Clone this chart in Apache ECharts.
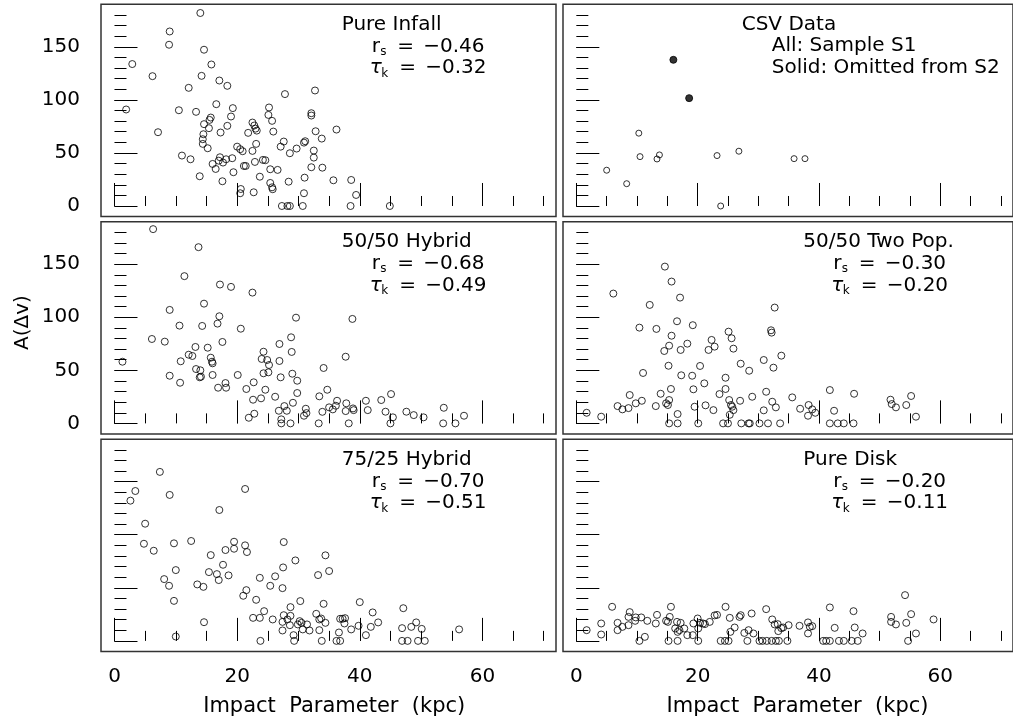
<!DOCTYPE html>
<html>
<head>
<meta charset="utf-8">
<script src="https://cdn.jsdelivr.net/npm/echarts@6/dist/echarts.min.js"></script>
<style>
  html, body { margin: 0; padding: 0; background: #fff; }
  #chart { width: 1013px; height: 726px; }
</style>
</head>
<body>
<div id="chart"></div>
<script>
// Absorption amplitude A(Δv) versus impact parameter for each kinematic model.
const pureInfall = [
  [1.9,90.9],[2.9,133.7],[6.2,122.3],[7.1,69.5],[9.0,164.4],[8.9,151.9],[10.5,90.2],[11.0,47.5],
  [12.1,111.3],[12.4,44.0],[13.3,88.7],[13.9,28.0],[14.0,181.8],[14.2,122.6],[14.6,147.2],[14.6,77.1],
  [14.5,67.6],[14.4,62.9],[14.4,58.5],[15.2,54.4],[15.4,73.3],[15.5,81.1],[15.7,83.3],[15.8,133.3],
  [16.0,39.6],[16.5,34.9],[16.6,95.9],[17.0,42.7],[17.1,118.2],[17.3,69.2],[17.2,45.9],[17.6,23.3],
  [17.7,40.9],[18.2,44.0],[18.4,113.2],[18.4,75.5],[19.0,84.3],[19.3,92.2],[19.2,45.0],[19.4,31.8],
  [20.0,55.9],[20.5,53.5],[20.6,16.0],[20.5,12.0],[20.9,51.6],[21.1,37.7],[21.4,37.7],[21.8,68.9],
  [22.5,78.6],[22.5,51.9],[22.7,12.9],[22.8,75.8],[23.0,72.9],[23.2,71.0],[23.1,58.5],[22.9,41.5],
  [23.7,27.6],[24.2,43.4],[24.6,43.1],[25.2,92.8],[25.1,85.8],[25.4,34.6],[25.7,80.2],[25.4,21.7],
  [25.7,17.6],[25.8,15.8],[25.9,70.1],[26.6,34.0],[27.1,55.9],[27.3,0],[27.6,60.7],[27.8,105.4],
  [28.4,22.9],[28.2,0],[28.6,0],[28.6,49.7],[29.7,54.1],[30.7,0],[30.9,12.0],[31.0,26.7],
  [30.9,59.7],[31.1,61.0],[32.1,87.4],[32.1,85.2],[32.1,36.5],[32.5,45.6],[32.5,52.2],[32.7,108.8],
  [32.8,70.4],[33.8,63.5],[33.9,36.1],[35.7,24.2],[36.2,72.0],[38.6,24.5],[39.4,10.4],[38.5,0],[44.9,0]
];
const csvSampleS1 = [
  [5.0,33.7],[8.3,21.0],[10.3,68.6],[10.5,46.5],[13.3,44.3],[13.7,48.1],[23.2,47.5],[23.8,0],
  [26.8,51.6],[35.9,44.6],[37.7,44.6]
];
const csvOmittedS2 = [[16.0,137.7],[18.6,101.6]];
const hybrid5050 = [
  [1.3,58.1],[6.3,183.0],[6.1,79.5],[8.2,77.0],[9.0,106.9],[9.0,44.9],[10.6,92.1],[10.7,38.3],
  [10.8,58.5],[11.4,138.7],[12.1,64.7],[12.7,63.5],[13.2,72.0],[13.3,51.2],[13.7,166.0],[13.9,43.4],
  [14.0,50.0],[14.1,44.0],[14.3,91.8],[14.6,112.8],[15.2,71.3],[15.7,61.9],[15.9,58.1],[16.0,56.6],
  [16.0,45.6],[16.8,94.0],[16.9,33.6],[17.1,100.9],[17.2,130.8],[17.6,76.7],[18.1,38.0],[18.2,33.6],
  [19.0,128.6],[20.1,45.6],[20.6,89.2],[21.5,32.4],[21.9,5.3],[22.5,123.2],[22.7,38.7],[22.6,22.3],
  [22.8,9.1],[23.9,23.6],[24.0,60.7],[24.3,67.5],[24.3,47.2],[24.6,31.7],[24.9,59.7],[25.1,48.1],
  [25.2,55.0],[26.2,25.1],[26.8,11.9],[26.9,74.8],[26.9,58.8],[27.1,43.4],[27.2,3.8],[27.2,0],
  [27.7,16.3],[28.1,11.9],[28.7,0],[28.8,81.1],[28.9,67.3],[29.0,46.8],[29.1,19.4],[29.6,99.6],
  [29.8,40.2],[29.8,28.6],[30.9,7.2],[31.2,13.8],[31.3,9.7],[33.3,0],[33.4,25.5],[33.9,10.9],
  [34.1,52.2],[34.7,31.7],[35.0,15.1],[35.6,13.2],[36.3,21.3],[36.1,16.6],[37.8,18.9],[37.7,11.6],
  [38.9,14.1],[39.0,12.5],[38.2,0],[37.7,62.8],[38.8,98.4],[41.0,21.3],[41.3,12.5],[43.5,22.0],
  [44.2,11.0],[45.1,27.6],[45.4,5.7],[45.0,0],[47.6,11.0],[48.8,7.8],[50.4,5.7],[53.7,14.7],
  [53.6,0],[55.6,0],[57.0,7.2]
];
const twoPop5050 = [
  [1.7,10.0],[4.1,6.3],[6.1,122.3],[6.8,16.3],[7.6,13.2],[8.6,14.4],[8.8,26.7],[9.8,18.9],
  [10.4,90.2],[10.8,21.3],[11.0,47.5],[12.1,111.6],[13.1,16.3],[13.2,89.0],[13.9,27.9],[14.6,147.7],
  [14.5,68.2],[14.8,18.9],[15.1,17.3],[15.3,73.2],[15.2,54.3],[15.3,22.0],[15.3,0],[15.6,32.4],
  [15.7,82.6],[15.7,133.6],[16.6,96.2],[16.7,8.8],[16.7,0],[17.1,118.5],[17.2,69.2],[17.3,45.3],
  [18.3,75.1],[19.1,44.9],[19.2,92.5],[19.3,32.1],[19.5,15.7],[20.1,0],[20.4,54.1],[21.1,37.7],
  [21.3,17.0],[21.8,69.2],[22.3,78.6],[22.8,72.3],[22.6,12.5],[23.6,27.6],[24.2,0],[24.6,43.0],
  [24.6,32.4],[25.1,86.4],[25.0,0],[25.2,22.0],[25.3,8.1],[25.5,17.3],[25.6,80.2],[25.7,15.7],
  [25.9,12.5],[25.9,70.4],[27.0,21.3],[27.1,56.2],[27.2,0],[28.4,0],[28.6,0],[28.5,49.6],
  [29.0,25.1],[30.2,0],[30.9,12.3],[30.9,59.7],[31.3,29.8],[31.6,0],[32.1,87.7],[32.2,85.5],
  [32.3,20.4],[32.5,52.5],[32.7,109.1],[32.9,15.1],[33.6,0],[33.8,63.8],[35.6,24.5],[36.9,13.8],
  [38.3,17.3],[38.2,7.2],[38.9,13.2],[39.4,10.0],[41.8,31.4],[41.8,0],[42.5,11.9],[43.1,0],
  [44.1,0],[45.7,0],[45.8,27.9],[51.8,22.3],[52.0,18.2],[52.7,15.1],[54.4,17.3],[55.2,25.8],[56.0,6.3]
];
const hybrid7525 = [
  [2.6,132.1],[3.4,141.2],[5.0,110.4],[4.8,91.5],[6.4,84.9],[7.4,159.2],[8.1,58.2],[8.9,51.9],
  [9.0,137.5],[9.7,37.7],[9.7,91.9],[10.0,66.7],[10.0,4.1],[12.5,94.1],[13.5,53.2],[14.5,50.9],
  [14.6,17.6],[15.4,64.8],[15.7,80.8],[16.7,62.9],[17.0,57.3],[17.1,123.3],[17.7,71.7],[18.1,85.6],
  [18.6,61.7],[19.5,93.4],[19.5,86.8],[21.0,42.5],[21.3,143.1],[21.3,90.0],[21.5,47.8],[21.6,83.7],
  [22.6,21.7],[23.1,38.7],[23.7,59.4],[23.7,21.7],[23.8,0],[24.4,28.0],[25.4,51.9],[25.8,20.2],
  [26.2,60.8],[27.4,49.7],[27.5,69.2],[27.6,93.1],[27.4,17.9],[27.4,9.8],[27.6,24.2],[28.2,20.2],
  [28.7,31.8],[28.7,23.6],[28.6,14.8],[29.2,5.4],[29.3,0],[29.5,75.8],[29.9,15.5],[30.2,18.6],
  [30.3,37.5],[30.5,17.0],[30.7,10.8],[31.4,15.5],[31.8,9.8],[32.9,25.5],[33.2,62.0],[33.4,10.1],
  [33.4,20.2],[33.7,21.1],[33.8,0],[34.1,34.9],[34.4,17.0],[34.4,80.6],[35.0,65.8],[36.2,0],
  [36.6,7.9],[36.8,20.8],[36.8,0],[37.2,20.8],[37.5,16.4],[37.6,21.4],[38.6,10.8],[39.8,14.2],
  [40.0,36.5],[41.0,5.4],[41.8,13.2],[42.1,26.8],[43.0,17.4],[46.9,12.0],[47.1,30.8],[46.9,0],
  [47.8,0],[48.4,13.2],[49.2,17.4],[50.1,11.3],[49.5,0],[50.6,0],[56.2,10.8]
];
const pureDisk = [
  [1.7,10.1],[4.1,16.4],[4.1,6.0],[5.9,32.1],[6.8,17.0],[6.8,10.1],[7.6,13.2],[8.6,14.8],
  [8.6,22.6],[8.8,27.1],[9.7,18.9],[9.8,22.1],[10.4,0],[10.7,22.1],[11.3,3.8],[11.7,18.9],
  [13.1,16.4],[13.3,24.5],[14.8,18.9],[15.1,17.9],[15.2,0],[15.4,22.6],[15.6,32.1],[16.3,11.7],
  [16.6,17.9],[16.7,0],[16.7,8.5],[17.0,10.1],[17.2,17.0],[17.8,11.7],[18.3,5.4],[19.2,5.4],
  [19.3,16.4],[20.0,21.1],[20.1,11.7],[20.1,0],[20.4,17.0],[20.9,16.4],[21.2,15.8],[22.0,17.9],
  [22.8,24.0],[23.2,24.5],[23.8,0],[24.6,32.1],[24.5,0],[25.1,0],[25.3,21.7],[25.4,8.5],
  [26.1,12.6],[26.9,22.6],[27.1,24.2],[27.7,7.5],[28.2,0],[28.4,10.1],[28.9,25.8],[29.2,7.0],
  [30.2,0],[30.7,0],[31.4,0],[32.2,0],[32.9,0],[33.4,0],[34.8,0],[31.3,29.9],
  [32.3,20.2],[32.7,15.5],[33.2,15.8],[33.3,9.2],[33.8,12.0],[34.1,12.6],[35.0,14.8],[36.8,14.2],
  [38.2,17.4],[38.2,7.0],[38.5,13.2],[38.9,13.9],[40.7,0],[41.2,0],[41.8,0],[41.8,31.5],
  [42.6,12.3],[43.3,0],[44.1,0],[45.4,0],[46.4,0],[45.7,28.0],[45.9,12.6],[47.2,7.0],
  [51.9,22.6],[51.9,17.9],[52.7,15.5],[54.2,43.1],[54.4,17.0],[55.2,25.2],[54.7,0],[56.0,7.0],[58.9,20.2]
];

// Tick positions and labels
const xMajorTicks = [0, 20, 40, 60];
const xMinorTicks = [0, 5, 10, 15, 20, 25, 30, 35, 40, 45, 50, 55, 60, 65, 70];
const yMajorTicks = [0, 50, 100, 150];
const yMinorTicks = [0, 10, 20, 30, 40, 50, 60, 70, 80, 90, 100, 110, 120, 130, 140, 150, 160, 170, 180];

// Model names with Spearman / Kendall coefficients
const modelNames = ['Pure Infall', 'CSV Data', '50/50 Hybrid', '50/50 Two Pop.', '75/25 Hybrid', 'Pure Disk'];
const spearman = ['−0.46', null, '−0.68', '−0.30', '−0.70', '−0.20'];
const kendall  = ['−0.32', null, '−0.49', '−0.20', '−0.51', '−0.11'];
const csvNotes = ['All: Sample S1', 'Solid: Omitted from S2'];

const xTitle = 'Impact  Parameter  (kpc)';
const yTitle = 'A(Δv)';

const FONT = '"DejaVu Sans", "Liberation Sans", sans-serif';
const X_RANGE = [-2.2, 72];
const Y_RANGE = [-10, 190];
const colLeft = [101, 563];
const rowTop = [4.3, 221.7, 439.2];
const PANEL_W = 455;
const PANEL_H = 212.3;

const panelSeries = [
  [{ data: pureInfall }],
  [{ data: csvSampleS1, size: 6 }, { data: csvOmittedS2, solid: true, size: 7 }],
  [{ data: hybrid5050 }],
  [{ data: twoPop5050 }],
  [{ data: hybrid7525 }],
  [{ data: pureDisk }]
];

const grids = [], xAxes = [], yAxes = [], series = [], graphics = [];

for (let i = 0; i < 6; i++) {
  const row = Math.floor(i / 2), col = i % 2;
  grids.push({
    left: colLeft[col], top: rowTop[row], width: PANEL_W, height: PANEL_H,
    show: true, borderColor: '#333', borderWidth: 1.5, backgroundColor: 'transparent'
  });
  const showX = row === 2;
  const showY = col === 0 && row < 2;
  const tickStyle = { color: '#000', width: 1 };
  const labelStyle = { fontFamily: FONT, fontSize: 20, color: '#000' };
  // major ticks + labels
  xAxes.push({
    gridIndex: i, type: 'value', position: 'bottom', min: X_RANGE[0], max: X_RANGE[1],
    axisLine: { show: false }, splitLine: { show: false },
    axisTick: { show: true, inside: true, length: 23, customValues: xMajorTicks, lineStyle: tickStyle },
    axisLabel: Object.assign({ show: showX, customValues: xMajorTicks, margin: 15 }, labelStyle)
  });
  // minor ticks
  xAxes.push({
    gridIndex: i, type: 'value', position: 'bottom', min: X_RANGE[0], max: X_RANGE[1],
    axisLine: { show: false }, splitLine: { show: false },
    axisTick: { show: true, inside: true, length: 10, customValues: xMinorTicks, lineStyle: tickStyle },
    axisLabel: { show: false }
  });
  yAxes.push({
    gridIndex: i, type: 'value', position: 'left', min: Y_RANGE[0], max: Y_RANGE[1],
    axisLine: { show: false }, splitLine: { show: false },
    axisTick: { show: true, inside: true, length: 23, customValues: yMajorTicks, lineStyle: tickStyle },
    axisLabel: Object.assign({ show: showY, customValues: yMajorTicks, margin: 21 }, labelStyle)
  });
  yAxes.push({
    gridIndex: i, type: 'value', position: 'left', min: Y_RANGE[0], max: Y_RANGE[1],
    axisLine: { show: false }, splitLine: { show: false },
    axisTick: { show: true, inside: true, length: 12, customValues: yMinorTicks, lineStyle: tickStyle },
    axisLabel: { show: false }
  });
  panelSeries[i].forEach(s => {
    series.push({
      type: 'scatter', xAxisIndex: 2 * i, yAxisIndex: 2 * i, data: s.data,
      symbol: 'circle', symbolSize: s.size || 7, silent: true, clip: false,
      itemStyle: s.solid
        ? { color: '#000', borderColor: '#000', borderWidth: 1 }
        : { color: 'rgba(0,0,0,0)', borderColor: '#000', borderWidth: 1 }
    });
  });
}

// text helper: y is the baseline of the line
function label(text, x, base, size, extra) {
  return {
    type: 'text', x: x, y: base - 0.36 * size, silent: true,
    style: Object.assign({ text: text, fill: '#000', fontFamily: FONT, fontSize: size,
      align: 'left', verticalAlign: 'middle' }, extra || {})
  };
}

function statBlock(i, titleX) {
  const row = Math.floor(i / 2);
  const b0 = rowTop[row] + 27.7, b1 = b0 + 21.7, b2 = b1 + 21.7;
  graphics.push(label(modelNames[i], titleX, b0, 20));
  graphics.push(label('r', titleX + 30, b1, 20));
  graphics.push(label('s', titleX + 38.5, b1 + 2.5, 12));
  graphics.push(label('=', titleX + 55.5, b1, 20));
  graphics.push(label(spearman[i], titleX + 81.5, b1, 20));
  graphics.push(label('τ', titleX + 28, b2, 20, { fontStyle: 'italic' }));
  graphics.push(label('k', titleX + 39.5, b2 + 2.5, 12));
  graphics.push(label('=', titleX + 57.5, b2, 20));
  graphics.push(label(kendall[i], titleX + 83.5, b2, 20));
}

statBlock(0, 341.7);
statBlock(2, 341.7);
statBlock(4, 341.7);
statBlock(3, 803.3);
statBlock(5, 803.3);

graphics.push(label(modelNames[1], 741.7, 31.7, 20));
graphics.push(label(csvNotes[0], 771.7, 53.3, 20));
graphics.push(label(csvNotes[1], 771.7, 75, 20));

// axis titles
graphics.push({
  type: 'text', x: 334.2, y: 707, silent: true,
  style: { text: xTitle, fill: '#000', fontFamily: FONT, fontSize: 21, align: 'center', verticalAlign: 'middle' }
});
graphics.push({
  type: 'text', x: 797.5, y: 707, silent: true,
  style: { text: xTitle, fill: '#000', fontFamily: FONT, fontSize: 21, align: 'center', verticalAlign: 'middle' }
});
graphics.push({
  type: 'text', x: 22.5, y: 322.5, rotation: Math.PI / 2, silent: true,
  style: { text: yTitle, fill: '#000', fontFamily: FONT, fontSize: 20, align: 'center', verticalAlign: 'middle' }
});

const chart = echarts.init(document.getElementById('chart'), null, { renderer: 'canvas' });
chart.setOption({
  animation: false,
  backgroundColor: '#fff',
  grid: grids,
  xAxis: xAxes,
  yAxis: yAxes,
  series: series,
  graphic: graphics
});
</script>
</body>
</html>
